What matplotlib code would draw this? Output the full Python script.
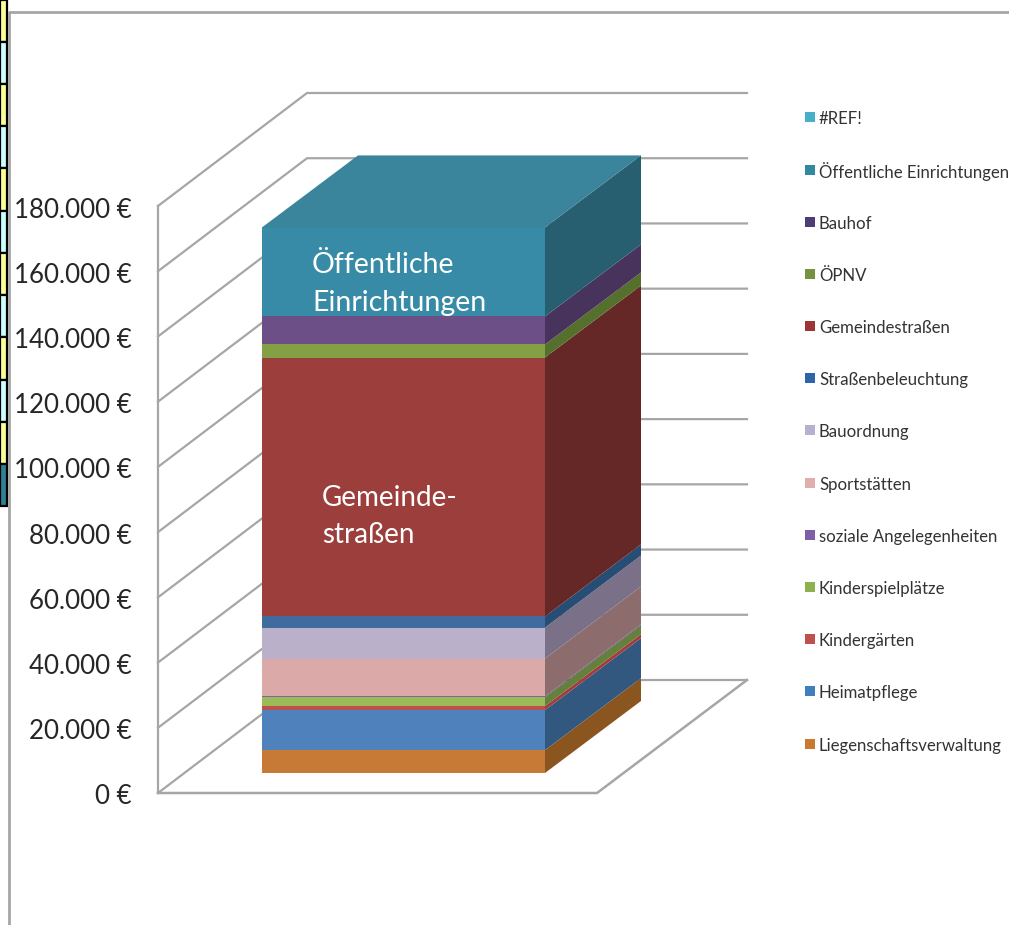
import matplotlib
matplotlib.use("Agg")
import matplotlib.pyplot as plt
from matplotlib.patches import Polygon, Rectangle

plt.rcParams['font.family'] = ['Lato', 'DejaVu Sans']

# Series, from bottom to top of the stack
categories = ["Liegenschaftsverwaltung", "Heimatpflege", "Kindergärten", "Kinderspielplätze",
              "soziale Angelegenheiten", "Sportstätten", "Bauordnung", "Straßenbeleuchtung",
              "Gemeindestraßen", "ÖPNV", "Bauhof", "Öffentliche Einrichtungen", "#REF!"]
values = [7000, 12300, 1200, 2700, 300, 11600, 9500, 3400, 79400, 4000, 8600, 27300, 0]
front_colors = ["#c77a35", "#4f81bd", "#c0504d", "#9bbb59", "#8064a2", "#dbaaa8", "#bab0c9",
                "#3f6b9e", "#9c3f3c", "#84a044", "#6d4f88", "#388ba6", "#4bacc6"]
side_colors = ["#8a551f", "#33587f", "#a33c3a", "#64803c", "#5c4a70", "#8c6c6c", "#7a7088",
               "#274d75", "#662826", "#55702c", "#48335c", "#285f70", "#2f7f96"]
legend_colors = ["#c97a30", "#3f7fbf", "#c0504d", "#8fb04f", "#7f5ea8", "#e0aeac", "#b8b0d0",
                 "#2f65a8", "#9c3533", "#76923c", "#4f3b78", "#2f8aa0", "#45b0c8"]
axis_ticks = [0, 20000, 40000, 60000, 80000, 100000, 120000, 140000, 160000, 180000]
tick_labels = ["0 €", "20.000 €", "40.000 €", "60.000 €", "80.000 €", "100.000 €",
               "120.000 €", "140.000 €", "160.000 €", "180.000 €"]

# Screen space: x in pixels, y in euros
PX_PER_EURO = 587 / 180000
BASE_Y = 793
W, H = 1009, 925
GRAY = "#a6a6a6"


def euros(px):
    # pixel offset upwards -> euros
    return px / PX_PER_EURO


fig = plt.figure(figsize=(W / 100, H / 100), dpi=100)
ax = fig.add_axes([0, 0, 1, 1])
ax.set_xlim(0, W)
ax.set_ylim(euros(BASE_Y - H), euros(BASE_Y))
ax.axis("off")

# Sheet cells peeking out on the left
strip_rows = [0, 42, 84, 126, 168, 211, 253, 295, 337, 380, 422, 464, 506]
for i in range(len(strip_rows) - 1):
    col = "#2f7f96" if i == len(strip_rows) - 2 else ("#ffff99" if i % 2 == 0 else "#ccffff")
    y0, y1 = euros(BASE_Y - strip_rows[i]), euros(BASE_Y - strip_rows[i + 1])
    ax.add_patch(Rectangle((0, y1), 7, y0 - y1, fc=col, ec="black", lw=1.6))

# Chart frame
ax.plot([9, 9, W], [euros(BASE_Y - H), euros(BASE_Y - 12), euros(BASE_Y - 12)], color=GRAY, lw=2)

# Walls and floor
dx_wall, dy_wall = 149, euros(113)
for v in axis_ticks[1:]:
    ax.plot([158, 158 + dx_wall, 747], [v, v + dy_wall, v + dy_wall], color=GRAY, lw=1.6, zorder=1)
ax.plot([158, 158 + dx_wall, 747], [0, dy_wall, dy_wall], color=GRAY, lw=1.6, zorder=1)
ax.plot([158, 158], [0, axis_ticks[-1]], color=GRAY, lw=1.6, zorder=1)
ax.plot([158, 597, 747], [0, 0, dy_wall], color=GRAY, lw=1.8, zorder=1)

for v, lab in zip(axis_ticks, tick_labels):
    ax.text(132, v - euros(4), lab, ha="right", va="center", fontsize=18.6, color="#262626")

# Stacked block
x0, x1 = 262, 545
dx_bar, dy_bar = 96, euros(72)
base = euros(20)
bottom = base
for v, fc, sc in zip(values, front_colors, side_colors):
    top = bottom + v
    ax.add_patch(Rectangle((x0, bottom), x1 - x0, v, fc=fc, ec="none", zorder=3))
    ax.add_patch(Polygon([(x1, bottom), (x1 + dx_bar, bottom + dy_bar),
                          (x1 + dx_bar, top + dy_bar), (x1, top)], fc=sc, ec="none", zorder=3))
    bottom = top
ax.add_patch(Polygon([(x0, bottom), (x1, bottom), (x1 + dx_bar, bottom + dy_bar),
                      (x0 + dx_bar, bottom + dy_bar)], fc="#3a849c", ec="none", zorder=3))

# Labels on the block
ax.text(312, euros(BASE_Y - 265), "Öffentliche", color="white", fontsize=20.5, va="center", zorder=4)
ax.text(312, euros(BASE_Y - 303), "Einrichtungen", color="white", fontsize=20.5, va="center", zorder=4)
ax.text(322, euros(BASE_Y - 498), "Gemeinde-", color="white", fontsize=20, va="center", zorder=4)
ax.text(322, euros(BASE_Y - 535), "straßen", color="white", fontsize=20, va="center", zorder=4)

# Legend, reversed like the stack
legend_y = 743.5
for name, col in zip(categories, legend_colors):
    y = euros(BASE_Y - legend_y)
    ax.add_patch(Rectangle((805, y - euros(5)), 10, euros(10), fc=col, ec="none"))
    ax.text(819, y - euros(2), name, fontsize=12.1, va="center", color="#333333")
    legend_y -= 52.17

fig.savefig("out.png", dpi=100)
